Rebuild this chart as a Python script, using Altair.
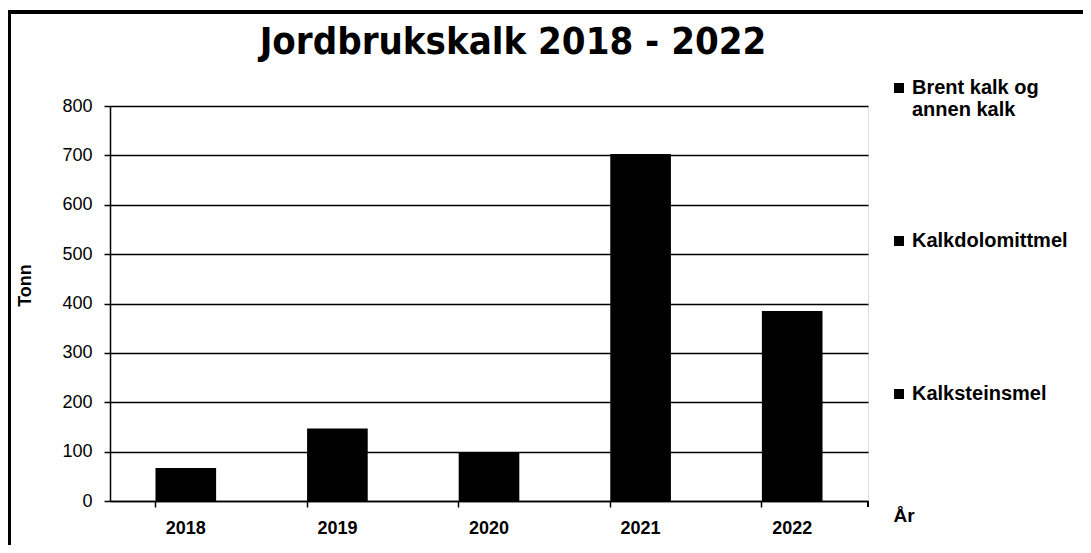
import altair as alt
import pandas as pd

years = ["2018", "2019", "2020", "2021", "2022"]
series = ["Brent kalk og annen kalk", "Kalkdolomittmel", "Kalksteinsmel"]
brent = [0, 0, 0, 0, 0]
dolomitt = [0, 0, 0, 474, 0]
steinsmel = [67, 147, 99, 229, 385]
y_ticks = [0, 100, 200, 300, 400, 500, 600, 700, 800]

rows = []
for i, yr in enumerate(years):
    for s, vals, order in [(series[2], steinsmel, 0), (series[1], dolomitt, 1), (series[0], brent, 2)]:
        rows.append({"År": yr, "Type": s, "Tonn": vals[i], "ord": order})
df = pd.DataFrame(rows)

FONT = "Liberation Sans"

bars = alt.Chart(df).mark_bar(strokeWidth=0).encode(
    x=alt.X("År:N", sort=years,
            scale=alt.Scale(paddingInner=0.6, paddingOuter=0.3),
            axis=alt.Axis(title="År", labelAngle=0, labelFont=FONT, labelFontSize=18,
                          labelFontWeight="bold", labelColor="black", labelPadding=12,
                          bandPosition=0, tickSize=6, tickColor="black", tickWidth=1.5,
                          domainColor="black", domainWidth=1.5,
                          titleFont=FONT, titleFontSize=19, titleFontWeight="bold",
                          titleColor="black", titleX=783, titleY=14, titleAlign="left",
                          titleBaseline="middle", grid=False)),
    y=alt.Y("sum(Tonn):Q", stack="zero",
            scale=alt.Scale(domain=[0, 800], nice=False),
            axis=alt.Axis(title="Tonn", values=y_ticks, labelFont=FONT, labelFontSize=18,
                          labelColor="black", labelPadding=12, tickSize=6, tickColor="black",
                          tickWidth=1.5, domainColor="black", domainWidth=1.5,
                          gridColor="black", gridWidth=1.5, gridOpacity=1,
                          titleFont=FONT, titleFontSize=18, titleFontWeight="bold",
                          titleColor="black", titleX=-85, titleY=179,
                          titleBaseline="middle")),
    color=alt.Color("Type:N", sort=series,
                    scale=alt.Scale(domain=series, range=["black", "black", "black"]),
                    legend=alt.Legend(title=None, orient="none", legendX=779, legendY=-28,
                                      symbolType="square", symbolSize=100,
                                      symbolStrokeWidth=0, symbolFillColor="black",
                                      labelFont=FONT, labelFontSize=20, labelFontWeight="bold",
                                      labelColor="black", labelOffset=3, rowPadding=111,
                                      labelLimit=300, gridAlign="all",
                                      labelExpr="datum.label == 'Brent kalk og annen kalk' ? ['Brent kalk og', 'annen kalk'] : datum.label")),
    order=alt.Order("ord:Q", sort="ascending"),
)

frame = alt.Chart(df).mark_rect(fill="white", fillOpacity=0, stroke="black", strokeWidth=3).encode(
    x=alt.value(-101), x2=alt.value(1200), y=alt.value(-94), y2=alt.value(600)
)

endtick = alt.Chart(df).mark_rule(color="black", strokeWidth=1.5).encode(
    x=alt.value(758), y=alt.value(395), y2=alt.value(401)
)

chart = alt.layer(frame, bars, endtick).properties(
    width=758, height=395,
    title=alt.TitleParams("Jordbrukskalk 2018 - 2022", font="DejaVu Sans Condensed, Liberation Sans Narrow, sans-serif",
                          fontSize=38, fontWeight="bold", color="black", anchor="middle",
                          frame="group", dx=24, offset=-51),
    autosize=alt.AutoSizeParams(type="none"),
    padding={"left": 102, "top": 98, "right": 215, "bottom": 44},
).configure_view(stroke=None).configure(background="white")

chart.save("out.html", embed_options={"renderer": "svg", "actions": False})
